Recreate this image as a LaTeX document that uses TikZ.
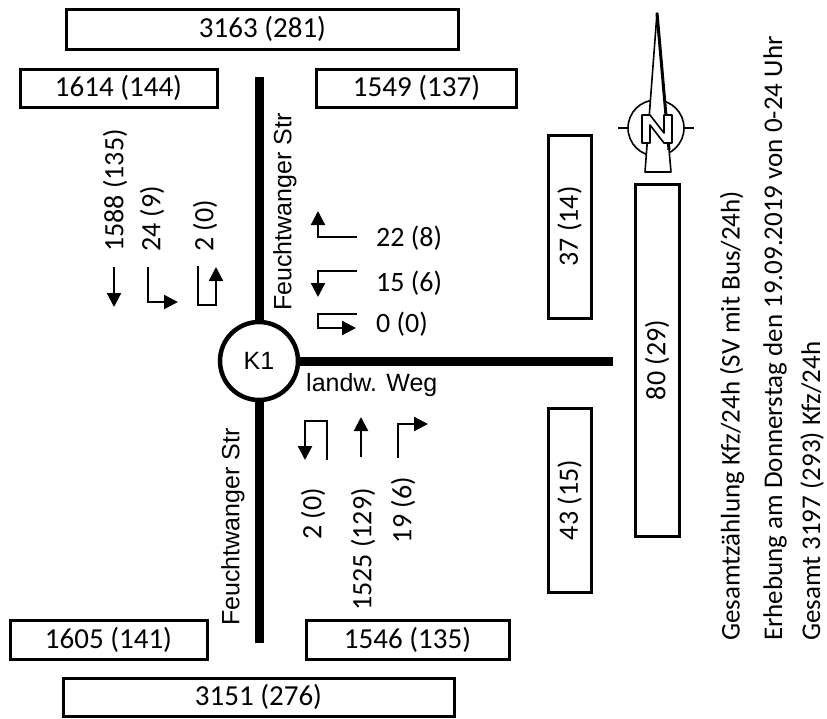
\documentclass[tikz,border=0pt]{standalone}
\usepackage{fontspec}
\setmainfont{Carlito}
\newfontfamily\arialf{Liberation Sans}
\usetikzlibrary{arrows.meta}
\begin{document}
\begin{tikzpicture}[x=1pt,y=-1pt,
  box/.style={draw,line width=3pt,inner sep=0pt,font=\fontsize{29}{31}\selectfont},
  cnt/.style={font=\fontsize{28}{30}\selectfont,inner sep=0pt},
  info/.style={font=\fontsize{27}{30}\selectfont,inner sep=0pt,rotate=90,anchor=west},
  lbl/.style={font=\arialf\fontsize{25}{28}\selectfont,inner sep=0pt},
  road/.style={line width=9pt},
  turn/.style={line width=2.2pt,-{Triangle[length=14pt,width=14pt]}},
  needle/.style={line width=1.6pt,line join=round}]
\useasboundingbox (0,0) rectangle (827,718);
% count boxes
\node[box,minimum width=392pt,minimum height=40pt] (b3163) at (262.5,29) {3163 (281)};
\node[box,minimum width=197pt,minimum height=38pt] (b1614) at (118.5,88) {1614 (144)};
\node[box,minimum width=200pt,minimum height=38pt] (b1549) at (416.5,88) {1549 (137)};
\node[box,minimum width=197pt,minimum height=39pt] (b1605) at (108.5,639.5) {1605 (141)};
\node[box,minimum width=203pt,minimum height=39pt] (b1546) at (407.5,639.5) {1546 (135)};
\node[box,minimum width=391pt,minimum height=38pt] (b3151) at (258.5,697) {3151 (276)};
\node[box,minimum width=43pt,minimum height=183pt] (b37) at (569.5,226.5) {};
\node[cnt,rotate=90] (t37) at (b37.center) {37 (14)};
\node[box,minimum width=43pt,minimum height=184pt] (b43) at (569.5,500) {};
\node[cnt,rotate=90] (t43) at (b43.center) {43 (15)};
\node[box,minimum width=44pt,minimum height=352pt] (b80) at (657,360) {};
\node[cnt,rotate=90] (t80) at (b80.center) {80 (29)};
% roads and junction
\node[circle,draw,line width=4.5pt,minimum size=78pt,inner sep=0pt,lbl] (K1) at (259,361) {K1};
\coordinate (nend) at (259,77);
\coordinate (send) at (259,643);
\coordinate (eend) at (613,361);
\draw[road] (nend) -- (K1.north);
\draw[road] (K1.south) -- (send);
\draw[road] (K1.east) -- (eend);
\node[lbl,rotate=90] (fn) at (285,212) {Feuchtwanger Str};
\node[lbl,rotate=90] (fs) at (233,527) {Feuchtwanger Str};
\node[lbl,anchor=west] (lw) at (306,385) {landw. Weg};
% north approach turn arrows
\draw[turn] (114,267) -- (114,307);
\draw[turn] (148,267) -- (148,302) -- (178,302);
\draw[turn] (198,266) -- (198,305) -- (216,305) -- (216,267);
\node[cnt,rotate=90,anchor=west] (n1) at (115,252) {1588 (135)};
\node[cnt,rotate=90,anchor=west] (n2) at (152,252) {24 (9)};
\node[cnt,rotate=90,anchor=west] (n3) at (205,252) {2 (0)};
% east approach turn arrows
\draw[turn] (357,237) -- (318,237) -- (318,211);
\draw[turn] (357,271) -- (318,271) -- (318,297);
\draw[turn] (357,314) -- (318,314) -- (318,328) -- (356,328);
\node[cnt,anchor=west] (e1) at (376,238) {22 (8)};
\node[cnt,anchor=west] (e2) at (376,283) {15 (6)};
\node[cnt,anchor=west] (e3) at (376,324) {0 (0)};
% south approach turn arrows
\draw[turn] (327,460) -- (327,421) -- (305,421) -- (305,460);
\draw[turn] (361,457) -- (361,417);
\draw[turn] (398,458) -- (398,424) -- (428,424);
\node[cnt,rotate=90,anchor=east] (s1) at (313,488) {2 (0)};
\node[cnt,rotate=90,anchor=east] (s2) at (363,488) {1525 (129)};
\node[cnt,rotate=90,anchor=east] (s3) at (403,477) {19 (6)};
% north arrow
\draw[needle] (656,128) circle[radius=28pt];
\draw[needle] (618,128) -- (628,128);
\draw[needle] (684,128) -- (694,128);
\draw[needle,fill=white] (657,13) -- (645,172) -- (671,172) -- cycle;
\draw[line width=3pt] (657,13) -- (669,150);
\draw[line width=2.5pt] (645,172) -- (671,172);
\draw[needle,fill=white] (642,115) -- (650,115) -- (664,133) -- (664,115) -- (672,115) -- (672,143) -- (664,143) -- (650,125) -- (650,143) -- (642,143) -- cycle;
% legend
\node[info] (i1) at (732,641) {Gesamtzählung Kfz/24h (SV mit Bus/24h)};
\node[info] (i2) at (775,641) {Erhebung am Donnerstag den 19.09.2019 von 0-24 Uhr};
\node[info] (i3) at (812,641) {Gesamt 3197 (293) Kfz/24h};
\end{tikzpicture}
\end{document}
